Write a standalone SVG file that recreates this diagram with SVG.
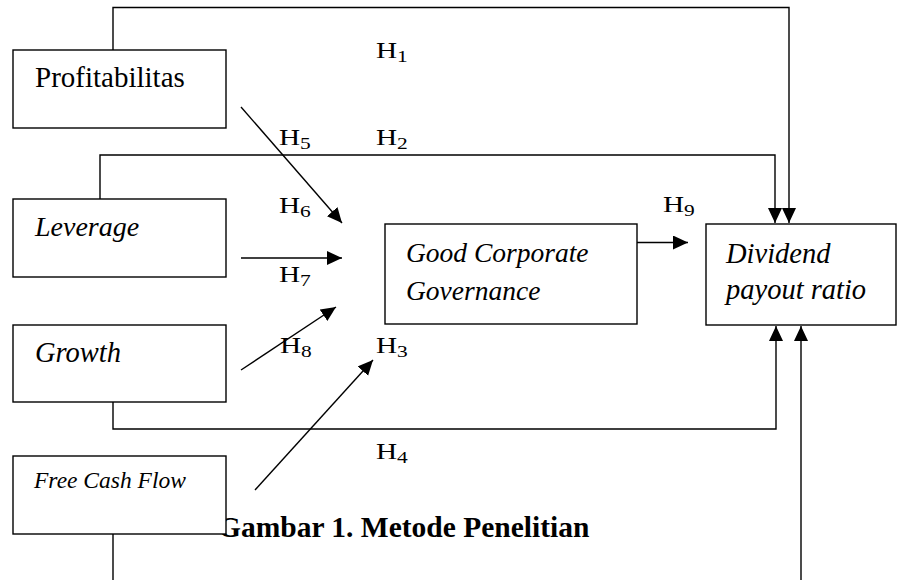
<svg xmlns="http://www.w3.org/2000/svg" width="898" height="580" viewBox="0 0 898 580">
<style>
.box{fill:#fff;stroke:#000;stroke-width:1.4}
.c{fill:none;stroke:#000;stroke-width:1.4}
.a{marker-end:url(#ah)}
.t{font-family:"Liberation Serif","Times New Roman",serif;fill:#000}
.i{font-style:italic}
.h{font-family:"Liberation Serif","Times New Roman",serif;font-size:22.5px;fill:#000}
.s{font-size:16.5px}
</style>
<defs>
<marker id="ah" markerUnits="userSpaceOnUse" markerWidth="16" markerHeight="15" refX="15" refY="7" orient="auto" viewBox="0 0 16 15">
<path d="M0,0 L15,7 L0,14 z" fill="#000"/>
</marker>
</defs>
<rect width="898" height="580" fill="#fff"/>
<text class="t" x="218" y="537" font-size="29.5" font-weight="bold">Gambar 1. Metode Penelitian</text>
<g id="connectors">
<polyline class="c a" points="113,50 113,7.5 789,7.5 789,223"/>
<polyline class="c a" points="100,199 100,155 775,155 775,223"/>
<polyline class="c a" points="113,402 113,429 776,429 776,326"/>
<polyline class="c a" points="113,534 113,590 801,590 801,326"/>
<line class="c a" x1="241" y1="107" x2="342" y2="223"/>
<line class="c a" x1="241" y1="258" x2="342" y2="258"/>
<line class="c a" x1="241" y1="370" x2="336" y2="307"/>
<line class="c a" x1="255" y1="490" x2="373" y2="360"/>
<line class="c a" x1="637" y1="242.5" x2="688" y2="242.5"/>
</g>
<g id="profitabilitas"><rect class="box" x="13" y="50" width="213" height="78"/><text class="t" x="35" y="87" font-size="29">Profitabilitas</text></g>
<g id="leverage"><rect class="box" x="13" y="199" width="213" height="78"/><text class="t i" x="35" y="236" font-size="28">Leverage</text></g>
<g id="growth"><rect class="box" x="13" y="325" width="213" height="77"/><text class="t i" x="35" y="362" font-size="28.5">Growth</text></g>
<g id="fcf"><rect class="box" x="13" y="456" width="213" height="78"/><text class="t i" x="34" y="488" font-size="23.5">Free Cash Flow</text></g>
<g id="gcg"><rect class="box" x="385" y="224" width="252" height="100"/><text class="t i" x="406" y="262" font-size="27.5">Good Corporate</text><text class="t i" x="406" y="300" font-size="27.5">Governance</text></g>
<g id="dpr"><rect class="box" x="706" y="224" width="190" height="101"/><text class="t i" x="726" y="262.5" font-size="28.5">Dividend</text><text class="t i" x="726" y="299" font-size="28.5">payout ratio</text></g>
<g id="labels">
<text class="h" transform="translate(376,58) scale(1.3,1)">H<tspan class="s" dy="4">1</tspan></text>
<text class="h" transform="translate(279,145) scale(1.3,1)">H<tspan class="s" dy="4">5</tspan></text>
<text class="h" transform="translate(376,145) scale(1.3,1)">H<tspan class="s" dy="4">2</tspan></text>
<text class="h" transform="translate(279,213) scale(1.3,1)">H<tspan class="s" dy="4">6</tspan></text>
<text class="h" transform="translate(663,212) scale(1.3,1)">H<tspan class="s" dy="4">9</tspan></text>
<text class="h" transform="translate(279,282) scale(1.3,1)">H<tspan class="s" dy="4">7</tspan></text>
<text class="h" transform="translate(280,353) scale(1.3,1)">H<tspan class="s" dy="4">8</tspan></text>
<text class="h" transform="translate(376,353) scale(1.3,1)">H<tspan class="s" dy="4">3</tspan></text>
<text class="h" transform="translate(376,459) scale(1.3,1)">H<tspan class="s" dy="4">4</tspan></text>
</g>
</svg>
